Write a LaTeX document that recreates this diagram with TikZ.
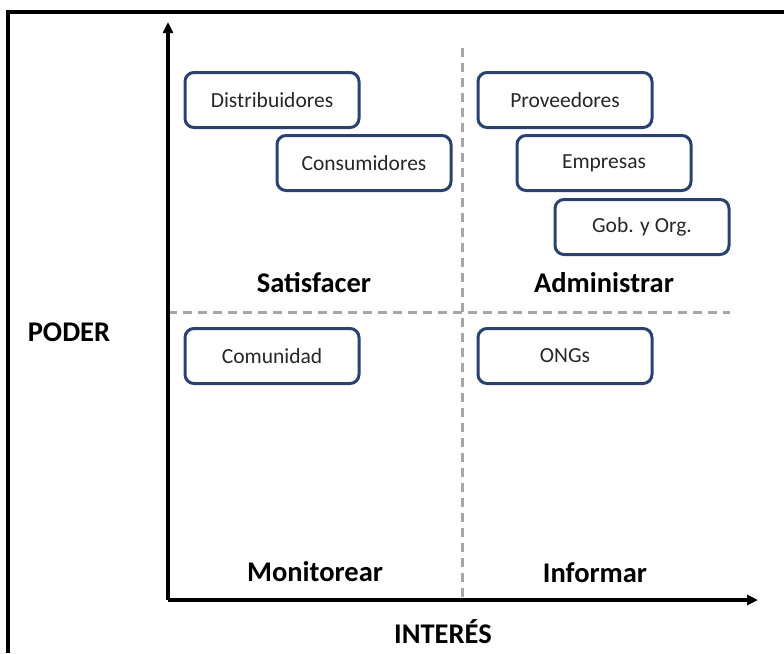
\documentclass[tikz,border=0pt]{standalone}
\usepackage{fontspec}
\setmainfont{Carlito}
\usetikzlibrary{arrows.meta}
\definecolor{boxline}{HTML}{2B4270}
\definecolor{grid}{HTML}{A6A6A6}
\begin{document}
\begin{tikzpicture}[x=1pt,y=-1pt,
  actor/.style={draw=boxline, line width=3pt, rounded corners=9pt, minimum width=174pt, minimum height=55pt, font=\fontsize{21.5}{24}\selectfont, text=black!85},
  quadrant/.style={font=\bfseries\fontsize{28.5}{32}\selectfont},
  axislabel/.style={font=\bfseries\fontsize{28.5}{32}\selectfont},
  axis/.style={line width=3.2pt, -{Triangle[length=11pt,width=10pt]}},
  divider/.style={grid, line width=3pt, dash pattern=on 9pt off 6pt}]
\useasboundingbox (0,0) rectangle (784,653);
% frame (only left and top sides fall inside the page)
\draw[line width=3.2pt] (8,653) -- (8,12) -- (784,12);

% quadrant dividers
\coordinate (vtop) at (462,48);
\coordinate (vbot) at (462,600);
\coordinate (hleft) at (168,312);
\coordinate (hright) at (730,312);
\draw[divider] (vtop) -- (vbot);
\draw[divider] (hleft) -- (hright);

% axes
\coordinate (origin) at (168,600);
\coordinate (ytip) at (168,22);
\coordinate (xtip) at (758,600);
\draw[axis] (origin) -- (ytip);
\draw[axis] (origin) -- (xtip);

% stakeholders
\node[actor] (dist) at (272,100) {Distribuidores};
\node[actor] (cons) at (364,163) {Consumidores};
\node[actor] (prov) at (565,100) {Proveedores};
\node[actor] (emp)  at (604,163) {Empresas};
\node[actor] (gob)  at (642,227) {Gob. y Org.};
\node[actor] (com)  at (272,356) {Comunidad};
\node[actor] (ong)  at (565,356) {ONGs};

% quadrant names
\node[quadrant] (sat) at (314,283) {Satisfacer};
\node[quadrant] (adm) at (604,283) {Administrar};
\node[quadrant] (mon) at (315,572) {Monitorear};
\node[quadrant] (inf) at (595,573) {Informar};

% axis names
\node[axislabel] (poder) at (69,332) {PODER};
\node[axislabel] (interes) at (443,632) {INTERÉS};
\end{tikzpicture}
\end{document}
